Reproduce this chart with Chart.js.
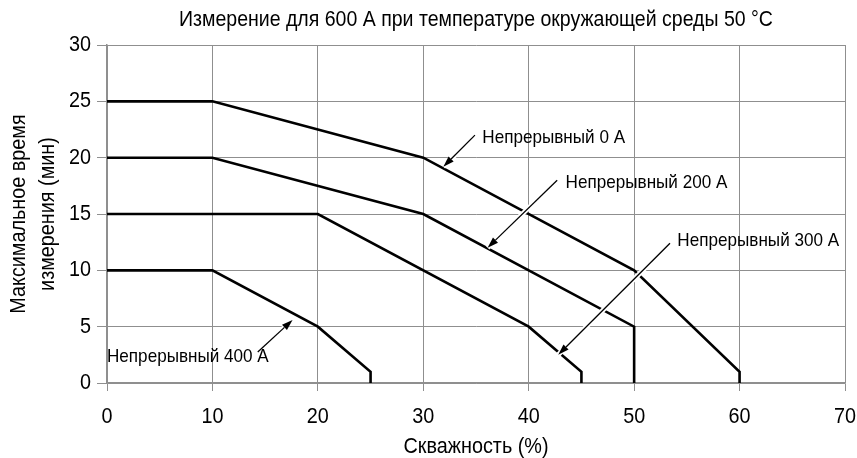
<!DOCTYPE html>
<html>
<head>
<meta charset="utf-8">
<script src="https://cdn.jsdelivr.net/npm/chart.js@4"></script>
<style>
  html, body { margin: 0; padding: 0; background: #fff; }
  #wrap { width: 857px; height: 458px; }
</style>
</head>
<body>
<div id="wrap"><canvas id="chart" width="857" height="458"></canvas></div>
<script>
const FONT = "'Liberation Sans', Arial, sans-serif";
// the original uses a narrow sans; squeeze Liberation Sans horizontally
const NARROW = 0.9;

// duty cycle (%) / max measuring time (min) for each continuous current
const x0A = [0, 10, 30, 50, 60, 60];
const y0A = [25, 25, 20, 10, 1, 0];
const x200A = [0, 10, 30, 50, 50];
const y200A = [20, 20, 15, 5, 0];
const x300A = [0, 20, 40, 45, 45];
const y300A = [15, 15, 5, 1, 0];
const x400A = [0, 10, 20, 25, 25];
const y400A = [10, 10, 5, 1, 0];

const xTicks = [0, 10, 20, 30, 40, 50, 60, 70];
const yTicks = [0, 5, 10, 15, 20, 25, 30];

// callout labels: text, label anchor, arrow tail, arrow head (data units)
const labelTexts = ["Непрерывный 0 A", "Непрерывный 200 A", "Непрерывный 300 A", "Непрерывный 400 A"];
const labelPos = [[35.6, 21.8], [43.5, 17.8], [54.1, 12.6], [0, 2.3]];
const arrowTail = [[34.9, 22.0], [42.7, 18.0], [53.4, 12.4], [14.3, 2.75]];
const arrowHead = [[31.9, 19.2], [36.1, 12.0], [42.8, 2.5], [17.6, 5.6]];

function toPoints(xs, ys) {
  return xs.map((x, i) => ({ x: x, y: ys[i] }));
}

function lineSet(xs, ys) {
  return {
    data: toPoints(xs, ys),
    borderColor: "#000",
    borderWidth: 2.6,
    pointRadius: 0,
    tension: 0,
    fill: false,
    borderJoinStyle: "miter",
  };
}

const canvas = document.getElementById("chart");
const c2d = canvas.getContext("2d");
const origFillText = c2d.fillText.bind(c2d);
const origMeasure = c2d.measureText.bind(c2d);
c2d.fillText = function (text, x, y) {
  this.save();
  this.translate(x, y);
  this.scale(NARROW, 1);
  origFillText(text, 0, 0);
  this.restore();
};
c2d.measureText = function (text) {
  const m = origMeasure(text);
  return { width: m.width * NARROW, actualBoundingBoxAscent: m.actualBoundingBoxAscent, actualBoundingBoxDescent: m.actualBoundingBoxDescent };
};

const calloutPlugin = {
  id: "callouts",
  afterDatasetsDraw(chart) {
    const ctx = chart.ctx;
    const xs = chart.scales.x;
    const ys = chart.scales.y;
    ctx.save();
    arrowTail.forEach((t, i) => {
      const x1 = xs.getPixelForValue(t[0]);
      const y1 = ys.getPixelForValue(t[1]);
      const x2 = xs.getPixelForValue(arrowHead[i][0]);
      const y2 = ys.getPixelForValue(arrowHead[i][1]);
      // white halo so crossed lines get a gap
      ctx.strokeStyle = "#fff";
      ctx.lineWidth = 5;
      ctx.beginPath();
      ctx.moveTo(x1, y1);
      ctx.lineTo(x2, y2);
      ctx.stroke();
      const ang = Math.atan2(y2 - y1, x2 - x1);
      const len = 11, half = 3.6;
      const bx = x2 - len * Math.cos(ang);
      const by = y2 - len * Math.sin(ang);
      ctx.strokeStyle = "#000";
      ctx.lineWidth = 1.3;
      ctx.beginPath();
      ctx.moveTo(x1, y1);
      ctx.lineTo(bx, by);
      ctx.stroke();
      ctx.fillStyle = "#000";
      ctx.beginPath();
      ctx.moveTo(x2, y2);
      ctx.lineTo(bx + half * Math.sin(ang), by - half * Math.cos(ang));
      ctx.lineTo(bx - half * Math.sin(ang), by + half * Math.cos(ang));
      ctx.closePath();
      ctx.fill();
    });
    ctx.font = "19px " + FONT;
    ctx.fillStyle = "#000";
    ctx.textAlign = "left";
    ctx.textBaseline = "middle";
    labelTexts.forEach((txt, i) => {
      ctx.fillText(txt, xs.getPixelForValue(labelPos[i][0]), ys.getPixelForValue(labelPos[i][1]));
    });
    ctx.restore();
  },
};

new Chart(canvas, {
  type: "line",
  data: {
    datasets: [lineSet(x0A, y0A), lineSet(x200A, y200A), lineSet(x300A, y300A), lineSet(x400A, y400A)],
  },
  plugins: [calloutPlugin],
  options: {
    responsive: false,
    animation: false,
    layout: { padding: { left: 0, right: 12, top: 0, bottom: 0 } },
    plugins: {
      legend: { display: false },
      tooltip: { enabled: false },
      title: {
        display: true,
        fullSize: false,
        text: "Измерение для 600 A при температуре окружающей среды 50 °C",
        color: "#000",
        font: { family: FONT, size: 21.7, weight: "normal", lineHeight: 1.2 },
        padding: { top: 6.6, bottom: 12.4 },
      },
    },
    scales: {
      x: {
        type: "linear",
        min: 0,
        max: 70,
        afterBuildTicks: (s) => { s.ticks = xTicks.map((v) => ({ value: v })); },
        afterFit: (s) => {
          s.height = 75;
          s.paddingLeft = 0;
          s.paddingRight = 0;
        },
        grid: { color: "#8f8f8f", lineWidth: 1, tickLength: 8 },
        border: { color: "#8f8f8f", width: 1.5 },
        ticks: { color: "#000", font: { family: FONT, size: 22, lineHeight: 1.2 }, padding: 13, maxRotation: 0 },
        title: {
          display: true,
          text: "Скважность (%)",
          color: "#000",
          font: { family: FONT, size: 22, lineHeight: 1.0 },
          padding: { top: 0, bottom: 0 },
        },
      },
      y: {
        type: "linear",
        min: 0,
        max: 30,
        afterBuildTicks: (s) => { s.ticks = yTicks.map((v) => ({ value: v })); },
        afterFit: (s) => { s.width = 107; },
        grid: { color: "#8f8f8f", lineWidth: 1, tickLength: 10 },
        border: { color: "#8f8f8f", width: 1.5 },
        ticks: { color: "#000", font: { family: FONT, size: 22 }, padding: 6 },
        title: {
          display: true,
          text: ["Максимальное время", "измерения (мин)"],
          color: "#000",
          font: { family: FONT, size: 22, lineHeight: 1.3 },
          padding: { top: 5, bottom: 0 },
        },
      },
    },
  },
});
</script>
</body>
</html>
